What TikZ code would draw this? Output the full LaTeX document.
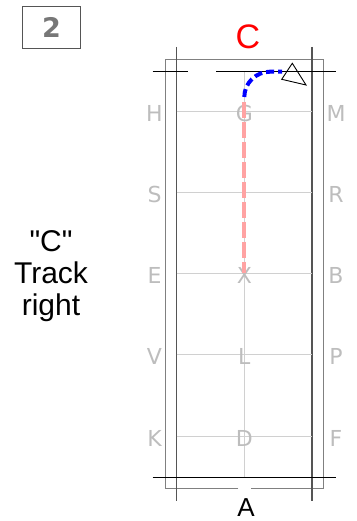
\documentclass[tikz,border=0pt]{standalone}
\usepackage{fontspec}
\setmainfont{Liberation Sans}
\newfontfamily\labelfont{Liberation Sans}
\newfontfamily\plainfont{DejaVu Sans}
\definecolor{letgrey}{HTML}{BDBDBD}
\definecolor{gridgrey}{HTML}{D0D0D0}
\definecolor{railgrey}{HTML}{555555}
\definecolor{rimgrey}{HTML}{808080}
\definecolor{numgrey}{HTML}{777777}
\definecolor{trackpink}{HTML}{FFA3A3}

\begin{document}
\begin{tikzpicture}[x=1pt, y=-1pt, node distance=81.2pt,
  letter/.style={text=letgrey, inner sep=0pt, font=\plainfont\fontsize{22}{22}\selectfont},
  gridline/.style={draw=gridgrey, line width=0.9pt},
  rail/.style={draw=railgrey, line width=1.3pt},
  rim/.style={draw=rimgrey, line width=1pt},
  bound/.style={draw=black, line width=1pt}]
  \useasboundingbox (0,0) rectangle (356,521);

  \node (N) [draw=railgrey, line width=0.9pt, minimum width=58pt, minimum height=42pt, text=numgrey,
    font=\plainfont\bfseries\fontsize{27}{27}\selectfont] at (51.5,27) {2};
  \node (T) [align=center, inner sep=0pt, font=\labelfont\fontsize{30}{32}\selectfont] at (51,276) {"C"\\Track\\right};
  \node (C) [text=red, inner sep=0pt, font=\fontsize{34}{34}\selectfont] at (248,37) {C};
  \node (A) [inner sep=0pt, font=\fontsize{26}{26}\selectfont] at (246,507.5) {A};

  \draw[rim] (238.3,488) -- (165.3,488) -- (165.3,60) -- (323.3,60) -- (323.3,488) -- (250.7,488);
  \draw[rail] (176.7,47) -- (176.7,500.7);
  \draw[rail] (312,47) -- (312,500.7);

  \draw[gridline] (176.7,111.3) -- (312,111.3);
  \draw[gridline] (176.7,192.5) -- (312,192.5);
  \draw[gridline] (176.7,273.7) -- (312,273.7);
  \draw[gridline] (176.7,354.9) -- (312,354.9);
  \draw[gridline] (176.7,436.1) -- (312,436.1);
  \draw[gridline] (244.3,71.7) -- (244.3,477.3);

  \draw[bound] (152.7,71.7) -- (188.3,71.7);
  \draw[bound] (216,71.7) -- (336,71.7);
  \draw[bound] (152.7,477.3) -- (336,477.3);

  \node (H) [letter] at (154.5,113.3) {H};
  \node (S) [letter, below of=H] {S};
  \node (E) [letter, below of=S] {E};
  \node (V) [letter, below of=E] {V};
  \node (K) [letter, below of=V] {K};
  \node (M) [letter] at (336,113.3) {M};
  \node (R) [letter, below of=M] {R};
  \node (B) [letter, below of=R] {B};
  \node (P) [letter, below of=B] {P};
  \node (F) [letter, below of=P] {F};
  \node (G) [letter] at (244.3,113.3) {G};
  \node (X) [letter, node distance=162.4pt, below of=G] {X};
  \node (L) [letter, below of=X] {L};
  \node (D) [letter, below of=L] {D};

  \coordinate (p0) at (244.3,101.7);
  \draw[trackpink, line width=4pt, dash pattern=on 16pt off 4pt] (p0) -- ([yshift=3pt]X.center);

  \coordinate (b0) at (244.3,97);
  \coordinate (b1) at (282,71.7);
  \draw[blue, line width=4pt, dash pattern=on 8pt off 4pt] (b0) .. controls (244.3,83) and (256,71.7) .. (270,71.7) -- (b1);
  \draw[bound, line width=0.9pt] (292.3,63.3) -- (281.7,79.3) -- (306,85) -- cycle;
\end{tikzpicture}
\end{document}
